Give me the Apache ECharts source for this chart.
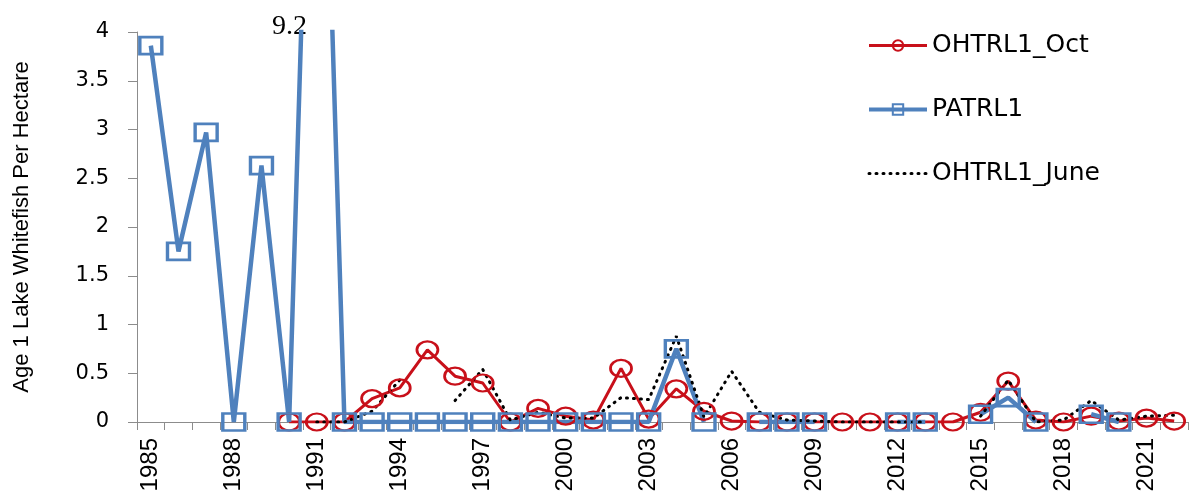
<!DOCTYPE html>
<html>
<head>
<meta charset="utf-8">
<script src="https://cdn.jsdelivr.net/npm/echarts@6/dist/echarts.min.js"></script>
<style>
  html, body { margin: 0; padding: 0; background: #fff; }
  #main { width: 1193px; height: 500px; }
</style>
</head>
<body>
<div id="main"></div>
<script>
// years on the category axis
var years = [];
for (var y = 1985; y <= 2022; y++) years.push(String(y));

// age 1 lake whitefish per hectare, null = no survey
var ohtrl1Oct = [null, null, null, null, null, 0, 0, 0, 0.24, 0.35,
  0.74, 0.47, 0.40, 0, 0.14, 0.06, 0.02, 0.55, 0.03, 0.34,
  0.11, 0.01, 0, 0, 0, 0, 0, 0, 0, 0,
  0.10, 0.42, 0.02, 0, 0.06, 0.01, 0.04, 0.01];

var patrl1 = [3.86, 1.75, 2.97, 0, 2.63, 0, 9.2, 0, 0, 0,
  0, 0, 0, 0, 0, 0, 0, 0, 0, 0.75,
  0, null, 0, 0, 0, null, null, 0, 0, null,
  0.08, 0.25, 0, null, 0.08, 0, null, null];

var ohtrl1June = [null, null, null, null, null, null, 0, 0, 0.11, 0.43,
  null, 0.22, 0.54, 0.02, 0.10, 0.04, 0.04, 0.25, 0.23, 0.88,
  0.05, 0.52, 0.10, 0.02, 0.01, 0, 0, 0, 0, null,
  0.06, 0.43, 0, 0.02, 0.22, 0.02, 0.06, 0.07];

// value that runs off the top of the axis
var offScale = '9.2';

var RED = '#C8101A';
var BLUE = '#4F81BD';
// hollow ellipse marker (excel markers look stretched sideways)
var ellipse = 'path://M0,10A10,10,0,1,1,20,10A10,10,0,1,1,0,10Z';

var myChart = echarts.init(document.getElementById('main'));

var option = {
  animation: false,
  backgroundColor: '#fff',
  grid: { left: 137, right: 5, top: 32, bottom: 78, outerBoundsMode: 'none' },
  legend: {
    orient: 'vertical',
    left: 862,
    top: 28,
    itemWidth: 58,
    itemHeight: 13,
    itemGap: 39,
    textStyle: { fontFamily: 'DejaVu Sans', fontSize: 25, color: '#000' },
    data: [
      { name: 'OHTRL1_Oct', lineStyle: { width: 3 } },
      { name: 'PATRL1', lineStyle: { width: 4 } },
      { name: 'OHTRL1_June', itemStyle: { opacity: 0 }, lineStyle: { width: 3 } }
    ]
  },
  xAxis: {
    type: 'category',
    data: years,
    axisLine: { lineStyle: { color: '#8c8c8c', width: 1 } },
    axisTick: { show: true, interval: 0, length: 8, lineStyle: { color: '#8c8c8c' } },
    axisLabel: {
      interval: 2,
      rotate: 90,
      margin: 16,
      fontFamily: 'Liberation Sans',
      fontSize: 24,
      color: '#000'
    },
    splitLine: { show: false }
  },
  yAxis: {
    type: 'value',
    min: 0,
    max: 4,
    interval: 0.5,
    name: 'Age 1 Lake Whitefish Per Hectare',
    nameLocation: 'middle',
    nameGap: 104,
    nameTextStyle: { fontFamily: 'Liberation Sans', fontSize: 22, color: '#000' },
    axisLine: { show: true, lineStyle: { color: '#8c8c8c', width: 1 } },
    axisTick: { show: true, length: 9, lineStyle: { color: '#8c8c8c' } },
    axisLabel: { margin: 28, fontFamily: 'DejaVu Sans', fontSize: 21, color: '#000' },
    splitLine: { show: false }
  },
  graphic: [{
    type: 'text',
    left: 272,
    top: 13,
    style: { text: offScale, font: '28px "Liberation Serif"', fill: '#000' }
  }],
  series: [
    {
      name: 'OHTRL1_Oct',
      type: 'line',
      data: ohtrl1Oct,
      symbol: ellipse,
      symbolSize: [21, 17],
      lineStyle: { color: RED, width: 3 },
      itemStyle: { color: 'rgba(255,255,255,0)', borderColor: RED, borderWidth: 2.5 }
    },
    {
      name: 'PATRL1',
      type: 'line',
      data: patrl1,
      symbol: 'rect',
      symbolSize: [22, 17],
      lineStyle: { color: BLUE, width: 4.5 },
      itemStyle: { color: 'rgba(255,255,255,0)', borderColor: BLUE, borderWidth: 3 }
    },
    {
      name: 'OHTRL1_June',
      type: 'line',
      data: ohtrl1June,
      symbol: 'none',
      lineStyle: { color: '#000', width: 3, type: [1, 6], cap: 'round' },
      itemStyle: { color: '#000' }
    }
  ]
};

myChart.setOption(option);
</script>
</body>
</html>
